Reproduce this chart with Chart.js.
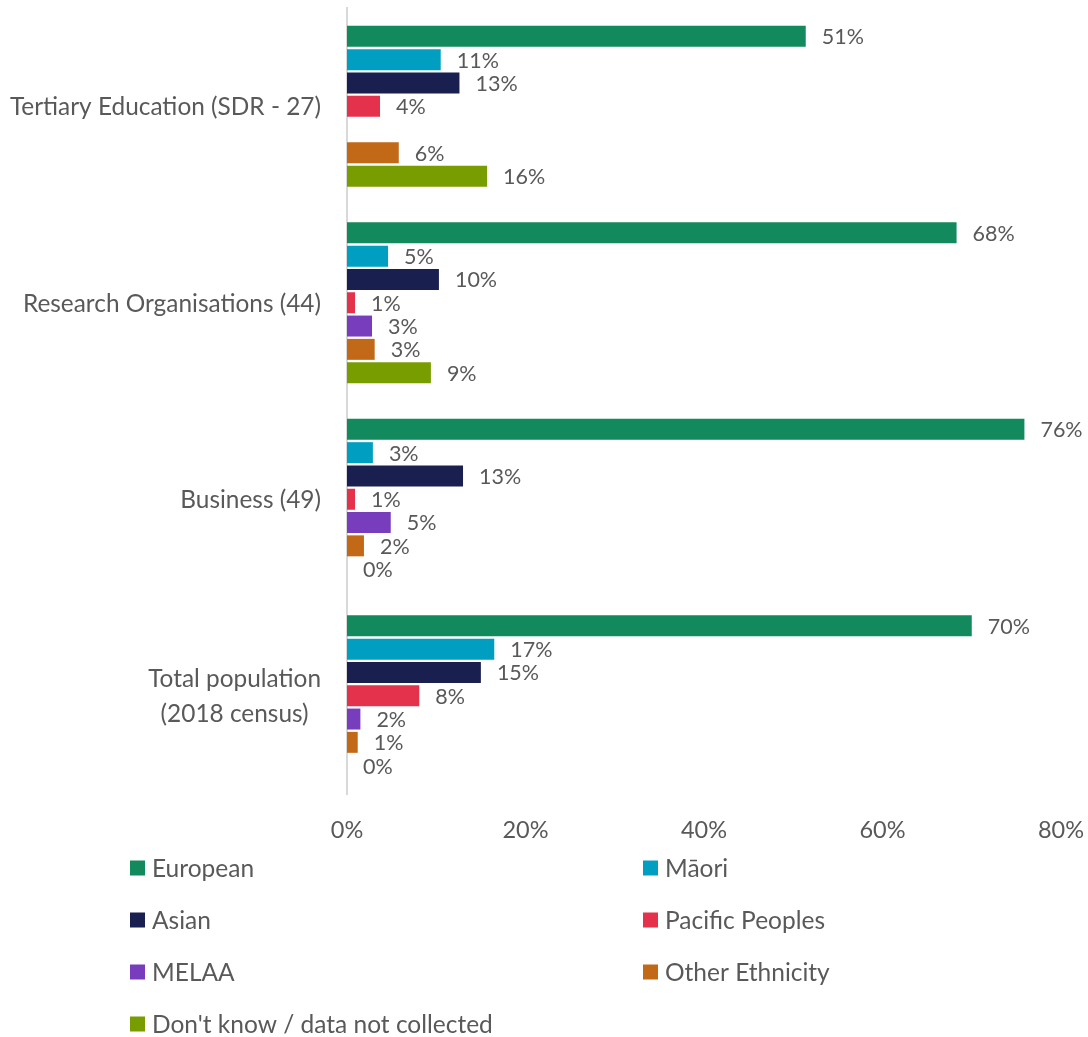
<!DOCTYPE html>
<html>
<head>
<meta charset="utf-8">
<script src="https://cdn.jsdelivr.net/npm/chart.js@4.4.1/dist/chart.umd.min.js"></script>
<style>
  html, body { margin: 0; padding: 0; background: #fff; }
  #wrap { width: 1088px; height: 1037px; position: relative; }
</style>
</head>
<body>
<div id="wrap"><canvas id="chart"></canvas></div>
<script>
// Categories (y axis)
const categories = [
    ['Tertiary Education (SDR - 27)'],
    ['Research Organisations (44)'],
    ['Business (49)'],
    ['Total population', '(2018 census)']
];

// Series names and colours
const seriesNames = ['European', 'Māori', 'Asian', 'Pacific Peoples', 'MELAA', 'Other Ethnicity', "Don't know / data not collected"];
const seriesColors = ['#128a5d', '#009fc1', '#191f4f', '#e4314c', '#773dbd', '#c26917', '#789d00'];

// Series values (%), one per category
const european = [51.4, 68.3, 75.9, 70.0];
const maori = [10.5, 4.6, 2.9, 16.5];
const asian = [12.6, 10.3, 13.0, 15.0];
const pacific = [3.7, 0.9, 0.9, 8.1];
const melaa = [null, 2.8, 4.9, 1.5];
const otherEthnicity = [5.8, 3.1, 1.9, 1.2];
const dontKnow = [15.7, 9.4, 0, 0];

// X axis ticks
const xMin = 0;
const xMax = 80;
const xStep = 20;

const seriesValues = [european, maori, asian, pacific, melaa, otherEthnicity, dontKnow];
const textColor = '#595959';
const fontFamily = 'Lato, "Open Sans", sans-serif';

// Draws the value next to the end of each bar
const barLabels = {
    id: 'barLabels',
    afterDatasetsDraw(chart) {
        const ctx = chart.ctx;
        ctx.save();
        ctx.font = '21.5px ' + fontFamily;
        ctx.fillStyle = textColor;
        ctx.textBaseline = 'middle';
        ctx.textAlign = 'left';
        chart.data.datasets.forEach((ds, i) => {
            chart.getDatasetMeta(i).data.forEach((bar, j) => {
                const v = ds.data[j];
                if (v === null) return;
                ctx.fillText(Math.round(v) + '%', bar.x + 16, bar.y + 1);
            });
        });
        ctx.restore();
    }
};

// Category labels: right edge on the axis, lines centred on each other
const categoryLabels = {
    id: 'categoryLabels',
    afterDraw(chart) {
        const ctx = chart.ctx;
        const yScale = chart.scales.y;
        const right = yScale.right - 26;
        const lineH = 35;
        ctx.save();
        ctx.font = '24.4px ' + fontFamily;
        ctx.fillStyle = textColor;
        ctx.textBaseline = 'middle';
        ctx.textAlign = 'center';
        chart.data.labels.forEach((lines, i) => {
            const w = Math.max(...lines.map(l => ctx.measureText(l).width));
            const cx = right - w / 2;
            const cy = yScale.getPixelForTick(i);
            const top = cy - (lines.length - 1) * lineH / 2;
            lines.forEach((l, k) => ctx.fillText(l, cx, top + k * lineH + 1));
        });
        ctx.restore();
    }
};

// Two-column legend under the axis
const gridLegend = {
    id: 'gridLegend',
    afterDraw(chart) {
        const ctx = chart.ctx;
        ctx.save();
        ctx.font = '24.5px ' + fontFamily;
        ctx.textBaseline = 'middle';
        ctx.textAlign = 'left';
        chart.data.datasets.forEach((ds, i) => {
            const col = i % 2;
            const row = Math.floor(i / 2);
            const x = col === 0 ? 130 : 643;
            const y = 868 + row * 52;
            ctx.fillStyle = ds.backgroundColor;
            ctx.fillRect(x, y - 7.5, 15, 15);
            ctx.fillStyle = textColor;
            ctx.fillText(ds.label, x + 22, y + 1);
        });
        ctx.restore();
    }
};

new Chart(document.getElementById('chart'), {
    type: 'bar',
    data: {
        labels: categories,
        datasets: seriesNames.map((name, i) => ({
            label: name,
            data: seriesValues[i],
            backgroundColor: seriesColors[i],
            categoryPercentage: 0.83,
            barPercentage: 0.9
        }))
    },
    options: {
        indexAxis: 'y',
        responsive: true,
        maintainAspectRatio: false,
        animation: false,
        layout: { padding: { top: 8, right: 27, left: 0, bottom: 0 } },
        plugins: {
            legend: { display: false },
            tooltip: { enabled: false }
        },
        scales: {
            x: {
                min: xMin,
                max: xMax,
                grid: { display: false, drawTicks: false },
                border: { display: false },
                ticks: {
                    stepSize: xStep,
                    padding: 22,
                    color: textColor,
                    font: { family: fontFamily, size: 23.5 },
                    callback: v => v + '%'
                },
                afterFit: scale => {
                    scale.height = 243;
                    scale.paddingLeft = 0;
                    scale.paddingRight = 0;
                }
            },
            y: {
                grid: { display: false, drawTicks: false },
                border: { display: true, color: '#d9d9d9', width: 2 },
                ticks: {
                    display: false,
                    padding: 26,
                    font: { family: fontFamily, size: 24.4, lineHeight: 1.45 }
                },
                afterFit: scale => {
                    scale.width = 347;
                    scale.paddingTop = 0;
                    scale.paddingBottom = 0;
                }
            }
        }
    },
    plugins: [barLabels, categoryLabels, gridLegend]
});
</script>
</body>
</html>
